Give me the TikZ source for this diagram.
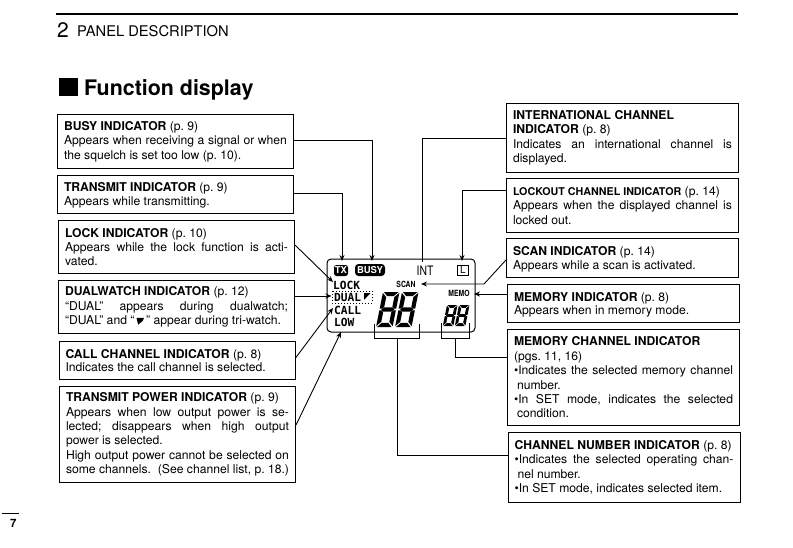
\documentclass[tikz,border=0pt]{standalone}
\usepackage{fontspec}
\setmainfont{TeX Gyre Heros}
\newfontfamily\lcdfont{DejaVu Sans Mono}
\usetikzlibrary{arrows.meta,calc}
\newcommand{\jl}[1]{\makebox[\hsize][s]{#1}\\}
\newcommand{\tri}{\tikz[baseline=0pt,x=1pt,y=1pt]\fill (0,8)--(9,8)--(7,4)--(2,0)--cycle;}
\newcommand{\segdigit}[6]{% x y w h t g
\begin{scope}[shift={(#1,#2)},xslant=0.2]
\pgfmathsetmacro{\w}{#3}\pgfmathsetmacro{\h}{#4}\pgfmathsetmacro{\t}{#5}\pgfmathsetmacro{\g}{#6}
\pgfmathsetmacro{\m}{\h/2}
\fill (\g,0)--(\w-\g,0)--(\w-\g-\t,\t)--(\g+\t,\t)--cycle;
\fill (\g,\h)--(\w-\g,\h)--(\w-\g-\t,\h-\t)--(\g+\t,\h-\t)--cycle;
\fill (\g+\t*0.6,\m-\t/2)--(\w-\g-\t*0.6,\m-\t/2)--(\w-\g-\t*0.2,\m)--(\w-\g-\t*0.6,\m+\t/2)--(\g+\t*0.6,\m+\t/2)--(\g+\t*0.2,\m)--cycle;
\fill (0,\g)--(\t,\g+\t)--(\t,\m-\t/2-\g)--(\t*0.5,\m-\g)--(0,\m-\g)--cycle;
\fill (0,\h-\g)--(\t,\h-\g-\t)--(\t,\m+\t/2+\g)--(\t*0.5,\m+\g)--(0,\m+\g)--cycle;
\fill (\w,\g)--(\w-\t,\g+\t)--(\w-\t,\m-\t/2-\g)--(\w-\t*0.5,\m-\g)--(\w,\m-\g)--cycle;
\fill (\w,\h-\g)--(\w-\t,\h-\g-\t)--(\w-\t,\m+\t/2+\g)--(\w-\t*0.5,\m+\g)--(\w,\m+\g)--cycle;
\end{scope}}
\tikzset{
 infobox/.style={draw=black,line width=1pt,inner xsep=6.5pt,inner ysep=0pt,anchor=north west,align=flush left,font=\frenchspacing\fontsize{12.15}{14.4}\selectfont},
 tight/.style={font=\frenchspacing\fontsize{12.15}{13.6}\selectfont},
 wire/.style={line width=0.9pt,draw=black},
 arrowwire/.style={wire,-{Stealth[length=6pt,width=5pt]}},
 lcd/.style={font=\lcdfont\bfseries\fontsize{11.2}{12}\selectfont,inner sep=0pt,anchor=base west},
 lcdsmall/.style={font=\bfseries\fontsize{8.5}{9}\selectfont,inner sep=0pt,xscale=0.8},
 badge/.style={fill=black,text=white,rounded corners=2.5pt,inner sep=0pt,font=\bfseries\fontsize{9.5}{10}\selectfont}
}
\begin{document}
\begin{tikzpicture}[x=1pt,y=-1pt]
\useasboundingbox (0,0) rectangle (793,547);
% header
\draw[line width=1.8pt] (56,14) -- (738,14);
\node[inner sep=0pt,anchor=base west,font=\fontsize{21}{24}\selectfont] (chap) at (57,37) {2};
\node[inner sep=0pt,anchor=base west,font=\fontsize{14.7}{16}\selectfont] (panel) at (77,36) {PANEL DESCRIPTION};
\fill (59,78) rectangle (78,96);
\node[inner sep=0pt,anchor=base west,font=\bfseries\fontsize{21.4}{24}\selectfont] (title) at (84,95) {Function display};
\draw[line width=1pt] (2,513) -- (19,513);
\node[inner sep=0pt,anchor=base west,font=\bfseries\fontsize{11.5}{12}\selectfont] (pagenum) at (10,527) {7};
% left boxes
\node[infobox,text width=223pt,minimum height=54pt] (busy) at (57,114) {{\bfseries BUSY INDICATOR} (p. 9)\\ \jl{Appears when receiving a signal or when}the squelch is set too low (p. 10).};
\node[infobox,tight,text width=223pt,minimum height=38pt] (tx) at (57,175) {\rule{0pt}{11pt}{\bfseries TRANSMIT INDICATOR} (p. 9)\\ Appears while transmitting.};
\node[infobox,text width=223pt,minimum height=53pt] (lock) at (58,220) {{\bfseries LOCK INDICATOR} (p. 10)\\ \jl{Appears while the lock function is acti-}vated.};
\node[infobox,text width=223pt,minimum height=53pt] (dual) at (58,280) {{\bfseries DUALWATCH INDICATOR} (p. 12)\\ \jl{``DUAL'' appears during dualwatch;}``DUAL'' and ``\,\scalebox{0.85}{\tri}\,'' appear during tri-watch.};
\node[infobox,tight,text width=223pt,minimum height=38pt] (call) at (58.5,341) {{\bfseries CALL CHANNEL INDICATOR} (p. 8)\\ Indicates the call channel is selected.};
\node[infobox,text width=223pt,minimum height=96pt] (power) at (59,386) {{\bfseries TRANSMIT POWER INDICATOR} (p. 9)\\ \jl{Appears when low output power is se-}\jl{lected; disappears when high output}power is selected.\\ \jl{High output power cannot be selected on}\jl{some channels.\ \ (See channel list, p. 18.)}};
% right boxes
\node[infobox,text width=219pt,minimum height=69pt] (intl) at (506,103) {{\bfseries INTERNATIONAL CHANNEL}\\ {\bfseries INDICATOR} (p. 8)\\ \jl{Indicates an international channel is}displayed.};
\node[infobox,text width=219pt,minimum height=54pt] (lockout) at (506,178) {{\fontsize{10.7}{14.4}\selectfont\bfseries LOCKOUT CHANNEL INDICATOR} (p. 14)\\ \jl{Appears when the displayed channel is}locked out.};
\node[infobox,tight,text width=219pt,minimum height=39pt] (scan) at (506,238) {\rule{0pt}{12pt}{\bfseries SCAN INDICATOR} (p. 14)\\ Appears while a scan is activated.};
\node[infobox,tight,text width=219pt,minimum height=38pt] (memory) at (507,284) {\rule{0pt}{12pt}{\bfseries MEMORY INDICATOR} (p. 8)\\ Appears when in memory mode.};
\node[infobox,text width=219pt,minimum height=96pt] (memch) at (507,329) {{\bfseries MEMORY CHANNEL INDICATOR}\\ (pgs. 11, 16)\\ \jl{•Indicates the selected memory channel}\hspace*{3pt}number.\\ \jl{•In SET mode, indicates the selected}\hspace*{3pt}condition.};
\node[infobox,text width=219pt,minimum height=70pt] (chnum) at (507.5,432) {\makebox[\hsize][l]{\bfseries CHANNEL NUMBER INDICATOR\mdseries\ (p. 8)}\\ \jl{•Indicates the selected operating chan-}\hspace*{3pt}nel number.\\ •In SET mode, indicates selected item.};
% display
\draw[line width=1pt,rounded corners=4pt] (327,259) rectangle (475,332);
\node[badge,minimum width=14pt,minimum height=11pt] (txb) at (341,270.5) {TX};
\node[badge,minimum width=30pt,minimum height=12pt,rounded corners=3.5pt] (busyb) at (370,270) {BUSY};
\node[inner sep=0pt,xscale=0.8,font=\fontsize{13}{14}\selectfont] (intb) at (425,271) {INT};
\node[draw,line width=0.8pt,inner sep=0pt,minimum width=11pt,minimum height=10pt,font=\fontsize{10}{10}\selectfont] (lb) at (463,270) {L};
\node[lcd] (locktxt) at (333,289) {LOCK};
\node[lcd] (dualtxt) at (334,301) {DUAL};
\node[lcd] (calltxt) at (334,314) {CALL};
\node[lcd] (lowtxt) at (334,326) {LOW};
\node[lcdsmall] (scantxt) at (406,284) {SCAN};
\node[lcdsmall] (memotxt) at (459,293) {MEMO};
\draw[line width=1pt,dotted] (332,291) rectangle (372,303);
\fill (364,293) -- (370.5,293) -- (364,300) -- cycle;
\segdigit{383}{292}{16.5}{35}{4.2}{0.9}
\segdigit{402}{292}{16.5}{35}{4.2}{0.9}
\segdigit{447}{305}{10.5}{21}{2.8}{0.6}
\segdigit{459}{305}{10.5}{21}{2.8}{0.6}
% brackets
\coordinate (brA) at (397,338);
\coordinate (brB) at (455,338);
\draw[wire] (374,324) |- (419,338) -- (419,324);
\draw[wire] (441,323) |- (469,338) -- (469,323);
% connectors
\coordinate (busyEnd) at (372,261);
\coordinate (txEnd) at (342,261);
\coordinate (lockEnd) at (333,282);
\coordinate (dualEnd) at (331.5,296);
\coordinate (callEnd) at (333,308);
\coordinate (lowEnd) at (341,332);
\coordinate (intEnd) at (422.5,262);
\coordinate (lockoutEnd) at (462,261);
\coordinate (scanEnd) at (421,284);
\coordinate (memEnd) at (474,294);
\draw[arrowwire] (busy.east |- 0,140) -- (372,140) -- (busyEnd);
\draw[arrowwire] (tx.east |- 0,193) -- (342,193) -- (txEnd);
\draw[arrowwire] (lock.east |- 0,245) -- (lockEnd);
\draw[arrowwire] (dual.east |- 0,296) -- (dualEnd);
\draw[arrowwire] (call.east |- 0,358) -- (callEnd);
\draw[arrowwire] (power.east |- 0,425) -- (lowEnd);
\draw[wire] (intl.west |- 0,138) -- (422.5,138) -- (intEnd);
\draw[arrowwire] (lockout.west |- 0,190) -- (462,190) -- (lockoutEnd);
\draw[arrowwire] (scan.west |- 0,260) -- (484,284) -- (scanEnd);
\draw[arrowwire] (memory.west |- 0,294) -- (memEnd);
\draw[wire] (memch.west |- 0,357) -- (455,357) -- (brB);
\draw[wire] (chnum.west |- 0,455) -- (397,455) -- (brA);
\end{tikzpicture}
\end{document}
